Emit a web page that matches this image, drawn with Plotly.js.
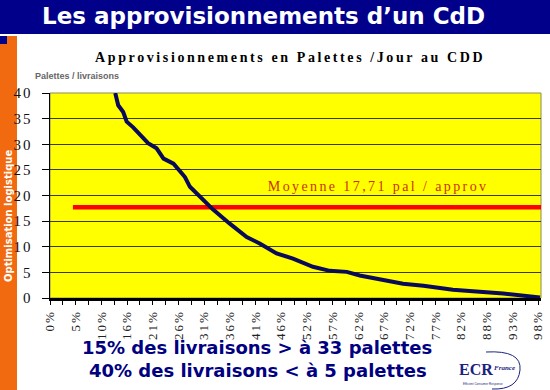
<!DOCTYPE html>
<html>
<head>
<meta charset="utf-8">
<script src="https://cdn.plot.ly/plotly-3.0.1.min.js"></script>
<style>
html,body{margin:0;padding:0;background:#fff;}
#chart{width:550px;height:390px;}
</style>
</head>
<body>
<div id="chart"></div>
<script>
// Data (share of deliveries in %, pallets per delivery)
const pctDeliveries = [13.1, 13.7, 14.7, 15.4, 16.7, 18.1, 19.7, 21.4, 22.8, 24.8, 26.1, 27.1, 28.1, 30.1, 32.7, 36.1, 39.5, 42.2, 45.5, 48.8, 52.8, 56.2, 59.6, 62.2, 66.5, 70.9, 75.0, 80.9, 86.3, 91.0, 98.4];
const palletsPerDelivery = [40, 37.6, 36.3, 34.4, 33.3, 31.8, 30.2, 29.2, 27.2, 26.2, 24.6, 23.6, 21.7, 19.7, 17.3, 14.5, 11.9, 10.6, 8.7, 7.7, 6.1, 5.3, 5.1, 4.4, 3.7, 2.8, 2.4, 1.6, 1.2, 0.9, 0.1];
const averageValue = 17.71;
const averageSpan = [4.6, 98.8];
const xTickLabels = ["0%","5%","10%","16%","21%","26%","31%","36%","41%","46%","52%","57%","62%","67%","72%","77%","82%","88%","93%","98%"];
const xTickStep = 5.16;
const yTickValues = [0,5,10,15,20,25,30,35,40];

const L=50, R=541, T=93, B=298;
const px = x => (x-L)/(R-L);
const py = y => (B-y)/(B-T);

const xTickVals = xTickLabels.map((_, i) => i * xTickStep);

const traces = [
  {
    x: averageSpan, y: [averageValue, averageValue],
    mode: 'lines', line: {color: '#ff0000', width: 4.5},
    hoverinfo: 'skip', cliponaxis: false
  },
  {
    x: pctDeliveries, y: palletsPerDelivery,
    mode: 'lines', line: {color: '#0a0a5a', width: 4, shape: 'linear'},
    hoverinfo: 'skip'
  }
];

const navy = '#000080';
function note(text, x, y, font, extra) {
  return Object.assign({text, x: px(x), y: py(y), xref:'paper', yref:'paper',
    xanchor:'center', yanchor:'middle', showarrow:false, font}, extra || {});
}
const annotations = [
  note('Les approvisionnements d’un CdD', 263, 16, {family:'DejaVu Sans', size:23, color:'#ffffff', weight:'bold'}),
  note('Optimisation logistique', 8, 216, {family:'DejaVu Sans', size:10, color:'#ffffff', weight:'bold'}, {textangle:-90}),
  note('Approvisionnements en Palettes /Jour au CDD', 290, 57, {family:'Liberation Serif', size:14, color:'#000000', weight:'bold'}),
  note('Palettes / livraisons', 33, 76, {family:'Liberation Sans', size:9, color:'#666666', weight:'bold'}, {xanchor:'left'}),
  note('Moyenne 17,71 pal / approv', 378, 186, {family:'Liberation Serif', size:14, color:'#cc3300'}),
  note('15% des livraisons > à 33 palettes', 257, 347, {family:'DejaVu Sans', size:18, color:navy, weight:'bold'}),
  note('40% des livraisons < à 5 palettes', 258, 370, {family:'DejaVu Sans', size:18, color:navy, weight:'bold'}),
  note('ECR', 476, 369, {family:'Liberation Serif', size:16, color:'#1a237e', weight:'bold'}),
  note('<i>France</i>', 504, 368, {family:'Liberation Serif', size:7, color:'#1a237e', weight:'bold'}),
  note('Efficient Consumer Response', 483, 384, {family:'Liberation Sans', size:3, color:'#1a237e'})
];

const shapes = [
  {type:'rect', xref:'paper', yref:'paper', x0:px(0), x1:px(550), y0:py(0), y1:py(34),
   fillcolor:'#00008b', line:{width:0}, layer:'below'},
  {type:'rect', xref:'paper', yref:'paper', x0:px(0), x1:px(17), y0:py(36), y1:py(390),
   fillcolor:'#f26a0f', line:{width:0}, layer:'below'},
  {type:'rect', xref:'paper', yref:'paper', x0:px(0), x1:px(7), y0:py(36), y1:py(44),
   fillcolor:'#00008b', line:{width:0}, layer:'below'},
  {type:'rect', xref:'paper', yref:'paper', x0:0, x1:1, y0:0, y1:1,
   line:{color:'#8a8a5a', width:1}, layer:'below'},
  {type:'path', xref:'paper', yref:'paper',
   path: `M ${px(486)} ${py(352)} Q ${px(522)} ${py(350)} ${px(520)} ${py(370)} Q ${px(518)} ${py(390)} ${px(492)} ${py(389)}`,
   line:{color:'#1a237e', width:1}}
];

const layout = {
  width:550, height:390,
  margin:{l:L, r:550-R, t:T, b:390-B, pad:0},
  paper_bgcolor:'#ffffff', plot_bgcolor:'#ffff00',
  showlegend:false,
  xaxis:{
    range:[0, 98.6], tickmode:'array', tickvals:xTickVals, ticktext:xTickLabels,
    tickangle:-90, ticks:'outside', ticklen:4, tickcolor:'#000', tickwidth:1,
    showgrid:false, zeroline:false, showline:true, linecolor:'#000', linewidth:3,
    tickfont:{family:'Liberation Serif', size:13, color:'#222'},
    minor:{tickmode:'linear', tick0:xTickStep/2, dtick:xTickStep, ticks:'outside', ticklen:4, tickcolor:'#000', showgrid:false}
  },
  yaxis:{
    range:[0,40], tickmode:'array', tickvals:yTickValues,
    ticks:'outside', ticklen:7, tickcolor:'#000', ticklabelstandoff:6,
    showgrid:true, gridcolor:'#3a3a20', gridwidth:1, zeroline:false,
    showline:true, linecolor:'#000', linewidth:1.5,
    tickfont:{family:'Liberation Serif', size:15, color:'#111'}
  },
  annotations, shapes
};

Plotly.newPlot('chart', traces, layout, {staticPlot:true, displayModeBar:false}).then(() => {
  document.querySelectorAll('#chart text').forEach(t => {
    const s = t.textContent;
    if (s.startsWith('Approvisionnements')) t.style.letterSpacing = '2.6px';
    else if (s.startsWith('Moyenne')) t.style.letterSpacing = '2.4px';
  });
  document.querySelectorAll('#chart .xtick text').forEach(t => t.style.letterSpacing = '2px');
  document.querySelectorAll('#chart .ytick text').forEach(t => t.style.letterSpacing = '2px');
});
</script>
</body>
</html>
